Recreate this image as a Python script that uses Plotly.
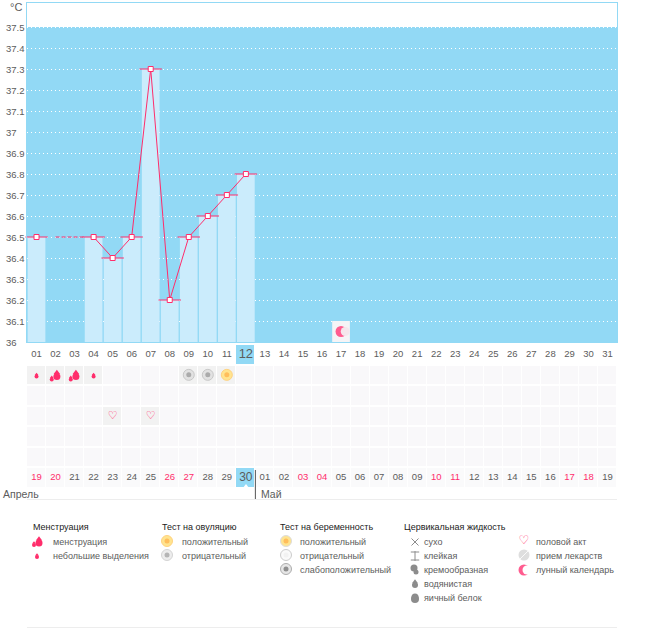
#!/usr/bin/env python3

import plotly.graph_objects as go

# ---- DATA ----------

days = list(range(1, 32))
day_labels = ["%02d" % d for d in days]
cycle_labels = ["19", "20", "21", "22", "23", "24", "25", "26", "27", "28", "29", "30",
                "01", "02", "03", "04", "05", "06", "07", "08", "09", "10", "11", "12",
                "13", "14", "15", "16", "17", "18", "19"]
red_cycle_days = [1, 2, 8, 9, 15, 16, 22, 23, 29, 30]

temps = [36.5, None, None, 36.5, 36.4, 36.5, 37.3, 36.2, 36.5, 36.6, 36.7, 36.8]
gap_days = [2, 3]
gap_temps = [36.5, 36.5]
y_ticks = [37.5, 37.4, 37.3, 37.2, 37.1, 37, 36.9, 36.8, 36.7, 36.6, 36.5, 36.4, 36.3, 36.2, 36.1, 36]

today = 12
moon_day = 17
moon_temp = 36.1
light_flow_days = [1, 4]
heavy_flow_days = [2, 3]
ovulation_neg_days = [9, 10]
ovulation_pos_days = [11]
sex_days = [5, 7]

# ---- COLOURS ----------

BLUE = "#92D9F5"
LIGHT = "#CBECFC"
PINK = "#FF2D6B"
TEXT = "#5c5c5c"
FONT = "Liberation Sans"
ROW_PX = 144 / 7

fig = go.Figure()

# ---- TEMPERATURE CHART -------

bar_days = [d for d, t in zip(days, temps) if t is not None]
bar_temps = [t for t in temps if t is not None]
fig.add_trace(go.Bar(x=bar_days, y=[t - 36 for t in bar_temps], base=36, width=0.93,
                     marker=dict(color=LIGHT, line_width=0)))
fig.add_trace(go.Bar(x=[moon_day], y=[moon_temp - 36], base=36, width=0.93,
                     marker=dict(color="#F5F4F6", line_width=0)))

fig.add_trace(go.Scatter(x=[gap_days[0], gap_days[-1] + 0.5], y=gap_temps, mode="lines",
                         line=dict(color=PINK, width=1, dash="4px 2px")))
fig.add_trace(go.Scatter(x=days[:len(temps)], y=temps, mode="lines",
                         line=dict(color=PINK, width=1)))
fig.add_trace(go.Scatter(x=bar_days, y=bar_temps, mode="markers", cliponaxis=False,
                         marker=dict(symbol="line-ew", size=16, line=dict(color=PINK, width=1))))
fig.add_trace(go.Scatter(x=bar_days, y=bar_temps, mode="markers",
                         marker=dict(symbol="square", size=5, color="white",
                                     line=dict(color=PINK, width=1))))
# moon on the chart
fig.add_trace(go.Scatter(x=[moon_day], y=[moon_temp - 0.05], mode="markers",
                         marker=dict(size=11, color="#FF5C8F")))
fig.add_trace(go.Scatter(x=[moon_day + 0.22], y=[moon_temp - 0.05], mode="markers",
                         marker=dict(size=9, color="#F5E6EC")))

# ---- GRID BELOW THE CHART -------

# 0 plain cell, 1 cell with an icon, 2 today, 3 cycle row
grid = [[None] * 31 for _ in range(6)] + [[3] * 31]
for row in range(1, 6):
    grid[row] = [0] * 31
for d in light_flow_days + heavy_flow_days + ovulation_neg_days + ovulation_pos_days:
    grid[1][d - 1] = 1
for d in sex_days:
    grid[3][d - 1] = 1
grid[0][today - 1] = 2
grid[6][today - 1] = 2

fig.add_trace(go.Heatmap(x=days, y=list(range(7)), z=grid, xaxis="x", yaxis="y2",
                         zmin=0, zmax=3, showscale=False, xgap=1, ygap=2,
                         colorscale=[[0, "#F9F8FA"], [0.25, "#F9F8FA"], [0.25, "#F2F2F2"], [0.5, "#F2F2F2"],
                                     [0.5, BLUE], [0.75, BLUE], [0.75, "#FAFAFB"], [1, "#FAFAFB"]]))

fig.add_trace(go.Scatter(x=days, y=[0] * 31, text=day_labels, mode="text", yaxis="y2",
                         textfont=dict(family=FONT, color=TEXT,
                                       size=[13 if d == today else 9.5 for d in days])))
fig.add_trace(go.Scatter(x=days, y=[6] * 31, text=cycle_labels, mode="text", yaxis="y2",
                         textfont=dict(family=FONT,
                                       color=[PINK if d in red_cycle_days else TEXT for d in days],
                                       size=[12 if d == today else 9.5 for d in days])))


def drop(x, y, size, colour, xaxis="x", yaxis="y2", px=ROW_PX):
    # a drop is a small circle with a triangle on top, px is pixels per y unit
    fig.add_trace(go.Scatter(x=[x], y=[y], mode="markers", xaxis=xaxis, yaxis=yaxis,
                             marker=dict(symbol="circle", size=size, color=colour)))
    fig.add_trace(go.Scatter(x=[x], y=[y - size * 0.55 / px], mode="markers", xaxis=xaxis, yaxis=yaxis,
                             marker=dict(symbol="triangle-up", size=size * 0.8, color=colour)))


def test_icon(x, y, fill, edge, core, xaxis="x", yaxis="y2"):
    fig.add_trace(go.Scatter(x=[x], y=[y], mode="markers", xaxis=xaxis, yaxis=yaxis,
                             marker=dict(size=11, color=fill, line=dict(color=edge, width=1))))
    fig.add_trace(go.Scatter(x=[x], y=[y], mode="markers", xaxis=xaxis, yaxis=yaxis,
                             marker=dict(size=5, color=core)))


for d in light_flow_days:
    drop(d, 1.08, 4, PINK)
for d in heavy_flow_days:
    drop(d + 0.07, 1.08, 7, PINK)
    drop(d - 0.2, 1.22, 4, PINK)
for d in ovulation_neg_days:
    test_icon(d, 1, "#E2E2E2", "#C8C8C8", "#ABABAB")
for d in ovulation_pos_days:
    test_icon(d, 1, "#FFE48F", "#FFD27F", "#FFBE5C")
fig.add_trace(go.Scatter(x=sex_days, y=[3] * len(sex_days), text=["\u2661"] * len(sex_days), mode="text",
                         yaxis="y2", textfont=dict(family="DejaVu Sans", color=PINK, size=11)))

# ---- LEGEND (x2/y3 run in page pixels) -------

legend_heads = [(32, 527, "Менструация"), (161, 527, "Тест на овуляцию"),
                (279, 527, "Тест на беременность"), (403, 527, "Цервикальная жидкость")]
legend_items = [(52, 542, "менструация"), (52, 556, "небольшие выделения"),
                (181, 542, "положительный"), (181, 556, "отрицательный"),
                (299, 542, "положительный"), (299, 556, "отрицательный"), (299, 570, "слабоположительный"),
                (423, 542, "сухо"), (423, 556, "клейкая"), (423, 570, "кремообразная"),
                (423, 584, "водянистая"), (423, 598, "яичный белок"),
                (535, 542, "половой акт"), (535, 556, "прием лекарств"), (535, 570, "лунный календарь")]

annotations = []


def label(x, y, text, colour=TEXT, size=9, xref="x2", yref="y3"):
    annotations.append(dict(x=x, y=y, text=text, xref=xref, yref=yref, xanchor="left", yanchor="middle",
                            showarrow=False, borderpad=0, font=dict(family=FONT, color=colour, size=size)))


for x, y, text in legend_heads:
    label(x, y, text, colour="#222222")
for x, y, text in legend_items:
    label(x, y, text)

drop(39, 543, 7, PINK, "x2", "y3", 1)
drop(34, 545, 4, PINK, "x2", "y3", 1)
drop(37, 557, 4, PINK, "x2", "y3", 1)
test_icon(167, 541, "#FFE48F", "#FFD27F", "#FFBE5C", "x2", "y3")
test_icon(167, 555, "#EDEDED", "#D4D4D4", "#B5B5B5", "x2", "y3")
test_icon(286, 541, "#FFE48F", "#DCDCDC", "#FFBE5C", "x2", "y3")
test_icon(286, 555, "#FAFAFA", "#CCCCCC", "#F2F2F2", "x2", "y3")
test_icon(286, 569, "#E6E6E6", "#ADADAD", "#8F8F8F", "x2", "y3")


def icon(x, y, symbol, size, colour, width=0):
    fig.add_trace(go.Scatter(x=[x], y=[y], mode="markers", xaxis="x2", yaxis="y3",
                             marker=dict(symbol=symbol, size=size, color=colour,
                                         line=dict(color=colour, width=width))))


icon(246, 486, "triangle-up", 4, "white")
icon(415, 542, "x-thin", 7, "#8c8c8c", 1)
icon(415, 556, "line-ns", 7, "#8c8c8c", 1)
icon(415, 552, "line-ew", 6, "#8c8c8c", 1)
icon(415, 560, "line-ew", 6, "#8c8c8c", 1)
icon(414, 568, "circle", 7, "#8c8c8c")
icon(416, 572, "circle", 5, "#8c8c8c")
drop(415, 585, 6, "#8c8c8c", "x2", "y3", 1)
icon(415, 599, "circle", 8, "#8c8c8c")
icon(415, 597, "circle", 7, "#8c8c8c")

fig.add_trace(go.Scatter(x=[524], y=[541], text=["\u2661"], mode="text", xaxis="x2", yaxis="y3",
                         textfont=dict(family="DejaVu Sans", color=PINK, size=12)))
icon(524, 555, "circle", 11, "#DEDEDE")
icon(524, 555, "line-ne", 8, "#FAFAFA", 1)
icon(524, 570, "circle", 11, "#FF5C8F")
icon(527, 570, "circle", 9, "white")

# ---- AXIS TEXT -------

for t in y_ticks:
    label(5, t, "%g" % t, size=9.5, yref="y")
label(9, 7, "°C", size=11)
label(2, 494, "Апрель", size=10.5)
label(260, 494, "Май", size=10.5)

# ---- LAYOUT -------

rule = dict(type="line", xref="x2", yref="y3", line=dict(color="#EDEDED", width=1), layer="below")
shapes = [
    dict(type="rect", xref="x", yref="y", x0=0.5, x1=31.5, y0=36, y1=37.5,
         fillcolor=BLUE, line_width=0, layer="below"),
    dict(rule, x0=27, x1=617, y0=499.5, y1=499.5),
    dict(rule, x0=27, x1=617, y0=627.5, y1=627.5),
    dict(type="line", xref="x", yref="y3", x0=12.5, x1=12.5, y0=470, y1=499,
         line=dict(color="#555555", width=1)),
]

fig.update_layout(
    width=655, height=628, margin=dict(l=0, r=0, t=0, b=0),
    paper_bgcolor="white", plot_bgcolor="rgba(0,0,0,0)",
    barmode="overlay", showlegend=False, hovermode=False,
    shapes=shapes, annotations=annotations,
    xaxis=dict(domain=[27 / 655, 617 / 655], range=[0.5, 31.5], anchor="y", showticklabels=False, ticks="",
               showgrid=False, zeroline=False, showline=True, mirror=True, linecolor=BLUE, linewidth=1),
    yaxis=dict(domain=[1 - 342 / 628, 1 - 3 / 628], range=[36, 37.6143], tickvals=y_ticks, showticklabels=False,
               ticks="", gridcolor="white", griddash="1px 3px", gridwidth=1, zeroline=False,
               showline=True, mirror=True, linecolor=BLUE, linewidth=1),
    yaxis2=dict(domain=[1 - 488 / 628, 1 - 344 / 628], range=[6.5, -0.5], anchor="x", visible=False),
    xaxis2=dict(domain=[0, 1], range=[0, 655], anchor="y3", visible=False),
    yaxis3=dict(domain=[0, 1], range=[628, 0], anchor="x2", visible=False),
)

fig.write_html("out.html", config=dict(displayModeBar=False),
               post_script="document.body.style.margin='0';document.body.style.overflow='hidden';")
